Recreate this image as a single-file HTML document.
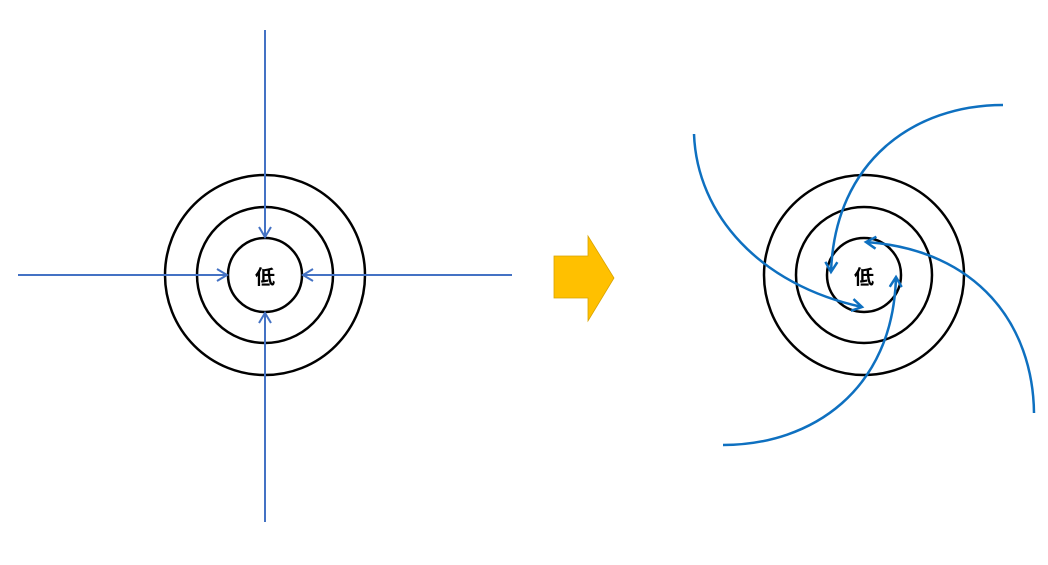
<!DOCTYPE html>
<html><head><meta charset="utf-8"><style>html,body{margin:0;padding:0;background:#fff}</style></head>
<body>
<svg width="1048" height="560" viewBox="0 0 1048 560" xmlns="http://www.w3.org/2000/svg">
<defs>
<marker id="a1" markerWidth="14" markerHeight="14" refX="11" refY="7" orient="auto" markerUnits="userSpaceOnUse">
<path d="M1,1 L11,7 L1,13" fill="none" stroke="#4472C4" stroke-width="2"/></marker>
<marker id="a2" markerWidth="14" markerHeight="14" refX="11" refY="7" orient="auto" markerUnits="userSpaceOnUse">
<path d="M1,1 L11,7 L1,13" fill="none" stroke="#0E70C0" stroke-width="2.5"/></marker>
</defs>
<g fill="none" stroke="#000" stroke-width="2.5">
<circle cx="265" cy="275" r="100"/><circle cx="265" cy="275" r="68"/><circle cx="265" cy="275" r="37"/>
<circle cx="864" cy="275" r="100"/><circle cx="864" cy="275" r="68"/><circle cx="864" cy="275" r="37"/>
</g>
<g stroke="#4472C4" stroke-width="2" fill="none">
<line x1="265" y1="30" x2="265" y2="237" marker-end="url(#a1)"/>
<line x1="265" y1="522" x2="265" y2="313" marker-end="url(#a1)"/>
<line x1="18" y1="275" x2="227" y2="275" marker-end="url(#a1)"/>
<line x1="512" y1="275" x2="303" y2="275" marker-end="url(#a1)"/>
</g>
<g stroke="#0E70C0" stroke-width="2.5" fill="none">
<path d="M694,134 C697,215 760,285 862,307" marker-end="url(#a2)"/>
<path d="M1003,105 C915,105 835,160 831,272" marker-end="url(#a2)"/>
<path d="M1034,413 C1033,325 978,250 866,242" marker-end="url(#a2)"/>
<path d="M723,445 C812,445 893,390 896,277" marker-end="url(#a2)"/>
</g>
<path d="M554,256 L588,256 L588,236 L614,278 L588,321 L588,298 L554,298 Z" fill="#FFC000" stroke="#D9A300" stroke-width="0.8"/>
<text x="265" y="284" font-size="20" font-family="'Liberation Sans','Noto Sans CJK JP',sans-serif" text-anchor="middle" font-weight="bold">低</text>
<text x="864" y="284" font-size="20" font-family="'Liberation Sans','Noto Sans CJK JP',sans-serif" text-anchor="middle" font-weight="bold">低</text>
</svg>
</body></html>
